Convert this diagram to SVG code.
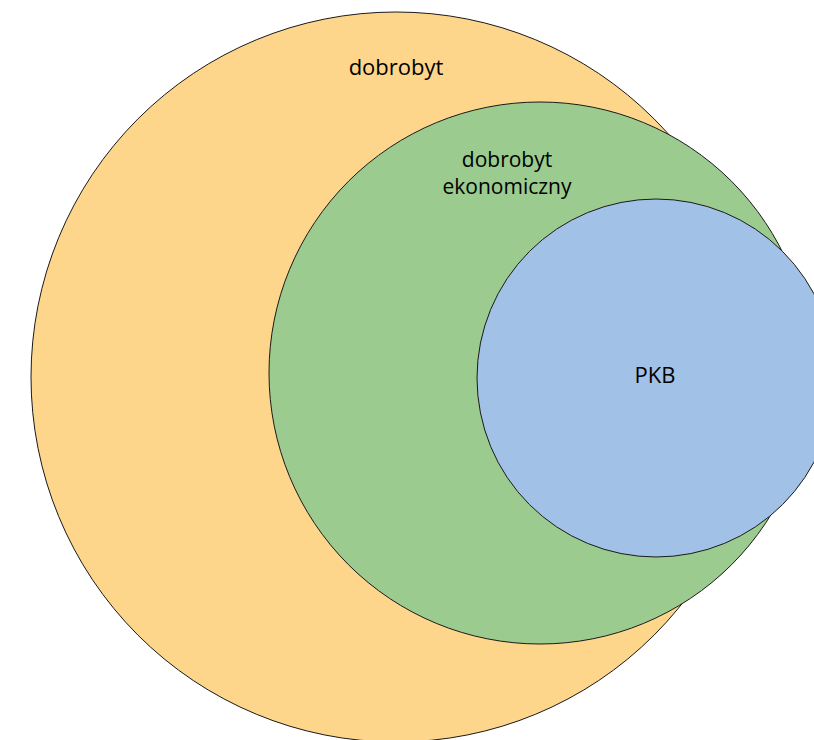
<svg xmlns="http://www.w3.org/2000/svg" width="814" height="740" viewBox="0 0 814 740">
<style>
.c{stroke:#1a1a1a;stroke-width:1}
.t{font-family:"Open Sans","DejaVu Sans",sans-serif;font-size:22px;fill:#000;text-anchor:middle}
.s{font-size:21px}
</style>
<rect width="814" height="740" fill="#fff"/>
<g id="dobrobyt">
<circle class="c" cx="396" cy="377" r="365" fill="#FDD68C"/>
<text class="t" x="396" y="75">dobrobyt</text>
</g>
<g id="dobrobyt-ekonomiczny">
<circle class="c" cx="540" cy="373" r="271" fill="#9BCB8F"/>
<text class="t s" x="507" y="167">dobrobyt</text>
<text class="t s" x="507" y="194">ekonomiczny</text>
</g>
<g id="pkb">
<circle class="c" cx="656" cy="378" r="179" fill="#A2C1E6"/>
<text class="t" x="655" y="383">PKB</text>
</g>
<g id="connectors"/>
</svg>
